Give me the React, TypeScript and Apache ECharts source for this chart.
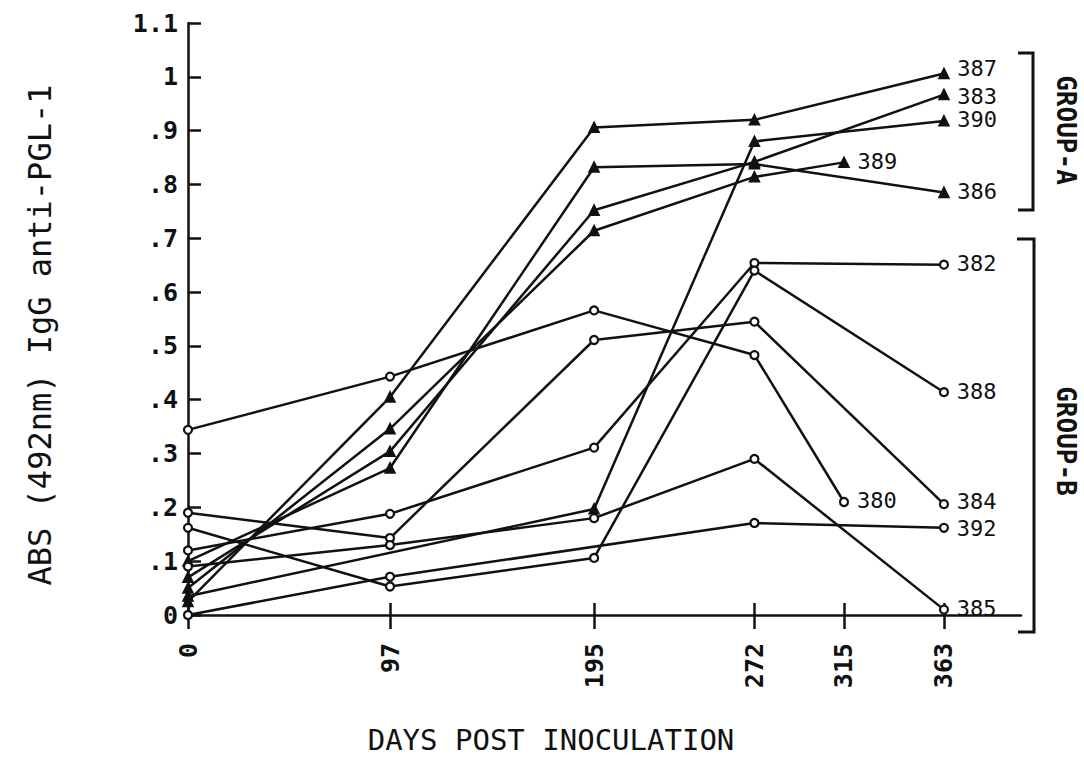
import React, { useEffect, useRef } from "react";
import * as echarts from "echarts";

const days = [0, 97, 195, 272, 315, 363];
const xTickValues = [0, 97, 195, 272, 315, 363];
const yTickLabels = [".0", ".1", ".2", ".3", ".4", ".5", ".6", ".7", ".8", ".9", "1", "1.1"];

// Group A (triangles)
const s387 = [0.025, 0.405, 0.906, 0.92, null, 1.006];
const s383 = [0.07, 0.304, 0.752, 0.842, null, 0.967];
const s390 = [0.035, null, 0.197, 0.88, null, 0.918];
const s389 = [0.05, 0.346, 0.714, 0.814, 0.841, null];
const s386 = [0.1, 0.273, 0.832, 0.838, null, 0.785];
// Group B (circles)
const s382 = [0.12, 0.188, 0.311, 0.654, null, 0.651];
const s388 = [0.162, 0.053, 0.106, 0.64, null, 0.414];
const s380 = [0.344, 0.443, 0.566, 0.483, 0.21, null];
const s384 = [0.19, 0.143, 0.511, 0.545, null, 0.206];
const s392 = [0.0, 0.071, null, 0.171, null, 0.162];
const s385 = [0.09, 0.13, 0.18, 0.29, null, 0.01];

const groupA: [string, (number | null)[]][] = [
  ["387", s387],
  ["383", s383],
  ["390", s390],
  ["389", s389],
  ["386", s386],
];
const groupB: [string, (number | null)[]][] = [
  ["382", s382],
  ["388", s388],
  ["380", s380],
  ["384", s384],
  ["392", s392],
  ["385", s385],
];

const labelNudge: Record<string, number> = { "387": -4, "383": 3, "384": -2, "392": 2 };

const FONT = "DejaVu Sans Mono";
const INK = "#111";

function buildSeries(name: string, vals: (number | null)[], symbol: string, size: number) {
  const pts: any[] = [];
  vals.forEach((v, i) => {
    if (v !== null) pts.push([days[i], v]);
  });
  const data = pts.map((p, i) =>
    i === pts.length - 1
      ? {
          value: p,
          label: {
            show: true,
            position: [size + 10, size / 2 + (labelNudge[name] || 0)],
            align: "left",
            verticalAlign: "middle",
            formatter: name,
            color: INK,
            fontFamily: FONT,
            fontSize: 22,
            lineHeight: 18,
          },
        }
      : { value: p }
  );
  return {
    name,
    type: "line",
    xAxisIndex: 0,
    yAxisIndex: 0,
    data,
    symbol,
    symbolSize: size,
    showSymbol: true,
    lineStyle: { color: INK, width: 2.5 },
    itemStyle: { color: symbol === "triangle" ? INK : "#fff", borderColor: INK, borderWidth: 2.2 },
    emphasis: { disabled: true },
    labelLayout: { hideOverlap: false },
    z: 3,
  };
}

export default function App() {
  const ref = useRef<HTMLDivElement>(null);
  useEffect(() => {
    if (!ref.current) return;
    const chart = echarts.init(ref.current, undefined, { renderer: "svg" });
    const gridRect = { left: 188, right: 63, top: 23, bottom: 158 };
    const series: any[] = [
      ...groupA.map(([n, v]) => buildSeries(n, v, "triangle", 9)),
      ...groupB.map(([n, v]) => buildSeries(n, v, "circle", 8)),
    ];
    chart.setOption({
      animation: false,
      backgroundColor: "#fff",
      grid: [
        { ...gridRect, containLabel: false },
        { ...gridRect, containLabel: false },
      ],
      xAxis: [
        {
          type: "value",
          gridIndex: 0,
          min: 0,
          max: 400,
          axisLine: { show: true, lineStyle: { color: INK, width: 2.5 } },
          axisTick: {
            show: true,
            inside: false,
            length: 14,
            lineStyle: { color: INK, width: 2.5 },
            customValues: xTickValues,
          },
          axisLabel: {
            show: true,
            rotate: 90,
            margin: 28,
            color: INK,
            fontFamily: FONT,
            fontSize: 25,
            fontWeight: "bold",
            customValues: xTickValues,
            formatter: (v: number) => String(v),
          },
          splitLine: { show: false },
        },
        {
          type: "value",
          gridIndex: 1,
          min: 0,
          max: 400,
          axisLine: { show: false },
          axisTick: {
            show: true,
            inside: true,
            length: 12,
            lineStyle: { color: INK, width: 2.5 },
            customValues: xTickValues,
          },
          axisLabel: { show: false },
          splitLine: { show: false },
        },
      ],
      yAxis: [
        {
          type: "value",
          gridIndex: 0,
          min: 0,
          max: 1.1,
          interval: 0.1,
          axisLine: { show: true, lineStyle: { color: INK, width: 2.5 } },
          axisTick: { show: true, inside: true, length: 13, lineStyle: { color: INK, width: 2.5 } },
          axisLabel: {
            show: true,
            margin: 10,
            color: INK,
            fontFamily: FONT,
            fontSize: 25,
            fontWeight: "bold",
            formatter: (v: number) => {
              const i = Math.round(v * 10);
              return i === 0 ? "0" : yTickLabels[i];
            },
          },
          splitLine: { show: false },
        },
        {
          type: "value",
          gridIndex: 1,
          min: 0,
          max: 1.1,
          show: false,
        },
      ],
      series,
      graphic: [
        {
          type: "text",
          x: 40,
          y: 335,
          rotation: Math.PI / 2,
          style: {
            text: "ABS (492nm) IgG anti-PGL-1",
            fontFamily: FONT,
            fontSize: 32,
            fill: INK,
            align: "center",
            verticalAlign: "middle",
          },
        },
        {
          type: "text",
          x: 551,
          y: 740,
          style: {
            text: "DAYS POST INOCULATION",
            fontFamily: FONT,
            fontSize: 29,
            fill: INK,
            align: "center",
            verticalAlign: "middle",
          },
        },
        {
          type: "polyline",
          shape: { points: [[1018, 53], [1033, 53], [1033, 210], [1018, 210]] },
          style: { stroke: INK, lineWidth: 3, fill: "none" },
        },
        {
          type: "polyline",
          shape: { points: [[1017, 239], [1034, 239], [1034, 632], [1018, 632]] },
          style: { stroke: INK, lineWidth: 3, fill: "none" },
        },
        {
          type: "text",
          x: 1066,
          y: 130,
          rotation: -Math.PI / 2,
          style: {
            text: "GROUP-A",
            fontFamily: FONT,
            fontSize: 26,
            fontWeight: "bold",
            fill: INK,
            align: "center",
            verticalAlign: "middle",
          },
        },
        {
          type: "text",
          x: 1066,
          y: 441,
          rotation: -Math.PI / 2,
          style: {
            text: "GROUP-B",
            fontFamily: FONT,
            fontSize: 26,
            fontWeight: "bold",
            fill: INK,
            align: "center",
            verticalAlign: "middle",
          },
        },
      ],
    });
    return () => chart.dispose();
  }, []);
  return (
    <div
      ref={ref}
      style={{ position: "fixed", left: 0, top: 0, width: 1084, height: 773, background: "#fff" }}
    />
  );
}
